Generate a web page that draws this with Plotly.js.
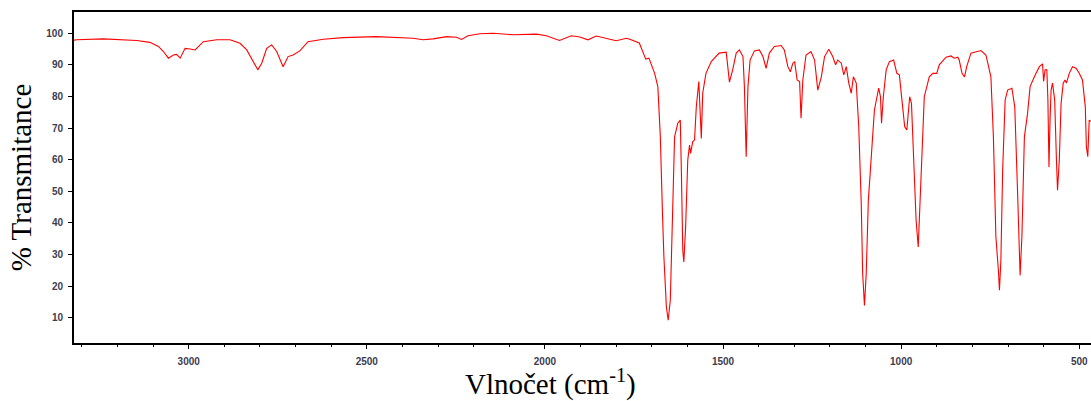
<!DOCTYPE html>
<html>
<head>
<meta charset="utf-8">
<script src="https://cdn.plot.ly/plotly-3.0.1.min.js"></script>
<style>html,body{margin:0;padding:0;background:#fff;}#chart{width:1091px;height:401px;}</style>
</head>
<body>
<div id="chart"></div>
<script>
const wavenumber = [3322,3314,3240,3146,3109,3085,3071,3057,3043,3034,3024,3010,2996,2982,2959,2921,2884,2856,2837,2819,2806,2795,2781,2767,2753,2735,2721,2707,2688,2665,2622,2566,2473,2370,2342,2314,2276,2248,2234,2216,2183,2146,2090,2024,1996,1959,1926,1902,1879,1856,1828,1800,1771,1762,1735,1720,1717,1708,1692,1683,1676,1670,1666,1659,1654,1648,1642,1636,1627,1620,1617,1613,1610,1605,1599,1594,1591,1585,1580,1575,1568,1564,1561,1557,1548,1533,1511,1491,1482,1473,1463,1454,1444,1440,1435,1430,1424,1412,1398,1388,1379,1370,1356,1337,1328,1318,1311,1304,1299,1292,1285,1281,1276,1267,1253,1243,1234,1224,1215,1203,1192,1184,1178,1168,1161,1154,1147,1140,1134,1126,1119,1112,1108,1103,1098,1092,1084,1075,1063,1058,1055,1050,1042,1033,1021,1012,1005,997,990,984,976,971,966,958,952,947,941,935,921,911,900,893,874,860,851,841,837,829,822,816,804,776,762,748,741,734,727,724,720,715,708,701,689,681,673,668,666,661,654,645,638,626,612,603,600,596,591,588,585,582,579,575,569,564,561,556,551,545,540,536,528,519,509,500,491,483,480,476,472,466];
const transmittance = [97.8,97.9,98.2,97.7,97.1,95.8,94.2,92.1,93.1,93.3,92.1,95.2,95.0,94.7,97.3,97.9,97.9,96.8,94.7,91.0,88.4,90.5,95.2,96.3,94.2,89.4,92.6,93.1,94.4,97.3,98.1,98.6,98.9,98.4,97.9,98.2,98.9,98.7,98.0,99.2,99.8,100.0,99.5,99.7,99.2,97.7,99.2,98.8,97.9,99.1,98.4,97.6,98.4,98.1,96.9,92.1,91.8,92.1,87.3,83.1,67.2,43.0,29.2,13.4,9.2,15.5,40.8,67.2,71.5,72.5,56.7,31.3,27.6,38.7,59.9,64.6,62.0,65.7,66.2,76.7,84.7,75.7,66.7,81.0,87.3,91.0,93.7,94.0,84.5,88.4,93.7,94.7,92.6,83.1,60.9,83.1,91.5,94.4,94.7,92.6,88.9,93.7,95.8,96.1,94.7,89.4,87.8,90.5,91.0,85.2,84.7,73.1,85.2,93.1,94.2,91.5,82.0,86.2,92.6,94.9,92.6,90.0,91.5,90.5,86.8,89.4,84.2,81.0,86.2,84.2,70.4,46.1,24.0,13.9,24.0,47.2,62.0,75.7,82.6,79.9,71.5,79.9,88.4,91.0,91.5,87.3,86.8,78.9,70.4,69.4,79.9,77.8,62.0,40.8,32.4,45.1,62.0,79.9,86.2,87.3,87.3,90.0,92.4,92.8,92.1,92.4,91.5,87.3,86.2,89.4,93.7,94.5,93.1,86.2,67.2,35.6,25.0,18.7,28.2,56.7,78.9,82.0,82.6,76.7,49.3,30.3,23.4,35.6,67.2,74.7,83.1,86.2,89.4,90.3,84.7,88.4,88.4,78.9,57.7,72.5,82.0,84.2,78.9,59.9,50.3,59.9,77.8,84.2,85.2,84.2,87.3,89.4,88.9,87.3,85.2,76.7,64.1,60.9,72.5,72.0];
const xTickVals = [3000,2500,2000,1500,1000,500];
const yTickVals = [10,20,30,40,50,60,70,80,90,100];
const xTitle = 'Vlnočet (cm<sup>-1</sup>)';
const yTitle = '% Transmitance';

const tickFont = {family: 'Liberation Sans, Arial, sans-serif', size: 10, color: '#3c3c50', weight: 'bold'};

Plotly.newPlot('chart', [{
  x: wavenumber,
  y: transmittance,
  type: 'scatter',
  mode: 'lines',
  line: {color: '#ff0000', width: 1.1},
  hoverinfo: 'x+y'
}], {
  width: 1091,
  height: 401,
  margin: {l: 74, r: 0, t: 12, b: 58},
  paper_bgcolor: '#ffffff',
  plot_bgcolor: '#ffffff',
  showlegend: false,
  xaxis: {
    range: [3322, 467],
    tickmode: 'array',
    tickvals: xTickVals,
    ticktext: xTickVals.map(String),
    ticks: 'outside',
    ticklen: 4,
    tickwidth: 1,
    tickcolor: '#000',
    minor: {dtick: 100, ticks: 'outside', ticklen: 2, tickcolor: '#000', tick0: 0},
    ticklabelstandoff: 4,
    showline: true,
    linecolor: '#000',
    linewidth: 2,
    mirror: true,
    showgrid: false,
    zeroline: false,
    tickfont: tickFont
  },
  yaxis: {
    range: [2, 106.7],
    tickmode: 'array',
    tickvals: yTickVals,
    ticktext: yTickVals.map(String),
    ticks: 'outside',
    ticklen: 4,
    tickwidth: 1,
    tickcolor: '#000',
    ticklabelstandoff: 3,
    showline: true,
    linecolor: '#000',
    linewidth: 2,
    mirror: true,
    showgrid: false,
    zeroline: false,
    tickfont: tickFont,
    title: {text: yTitle, font: {family: 'Liberation Serif, Times New Roman, serif', size: 29, color: '#000'}, standoff: 6}
  },
  annotations: [{
    text: xTitle,
    xref: 'paper', yref: 'paper',
    x: (550 - 74) / 1017, y: 0,
    yshift: -19,
    xanchor: 'center', yanchor: 'top',
    showarrow: false,
    font: {family: 'Liberation Serif, Times New Roman, serif', size: 29, color: '#000'}
  }]
}, {displayModeBar: false, staticPlot: true});
</script>
</body>
</html>
